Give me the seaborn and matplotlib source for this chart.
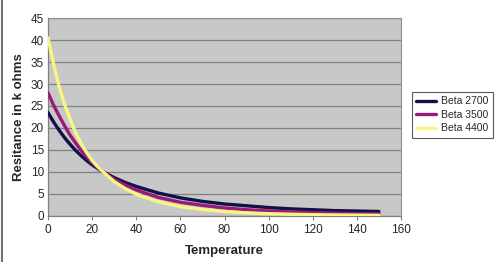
import matplotlib
matplotlib.use("Agg")
import matplotlib.pyplot as plt
import seaborn as sns
import pandas as pd
from matplotlib.lines import Line2D

temps = [0, 2.5, 5, 7.5, 10, 12.5, 15, 17.5, 20, 22.5, 25, 30, 35, 40, 50, 60, 70, 80, 90, 100, 110, 120, 130, 140, 150]
beta_2700 = [23.5, 21.4, 19.5, 17.8, 16.3, 14.9, 13.7, 12.6, 11.6, 10.8, 10.0, 8.7, 7.6, 6.7, 5.2, 4.1, 3.3, 2.7, 2.3, 1.9, 1.6, 1.4, 1.2, 1.1, 1.0]
beta_3500 = [28.0, 25.2, 22.8, 20.5, 18.4, 16.6, 14.9, 13.4, 12.1, 11.0, 10.0, 8.3, 7.0, 5.9, 4.2, 3.1, 2.4, 1.8, 1.4, 1.1, 0.9, 0.75, 0.6, 0.5, 0.45]
beta_4400 = [40.5, 34.6, 29.5, 25.4, 22.0, 19.0, 16.5, 14.4, 12.6, 11.2, 10.0, 7.8, 6.2, 4.9, 3.2, 2.1, 1.45, 1.0, 0.7, 0.5, 0.38, 0.28, 0.21, 0.16, 0.13]
series_names = ["Beta 2700", "Beta 3500", "Beta 4400"]
x_ticks = [0, 20, 40, 60, 80, 100, 120, 140, 160]
y_ticks = [0, 5, 10, 15, 20, 25, 30, 35, 40, 45]

rows = []
for name, vals in zip(series_names, [beta_2700, beta_3500, beta_4400]):
    for t, v in zip(temps, vals):
        rows.append({"Temperature": t, "R": v, "Series": name})
df = pd.DataFrame(rows)

sns.set_style("white")
plt.rcParams['font.family'] = ['Liberation Sans', 'DejaVu Sans']

fig = plt.figure(figsize=(5.0, 2.62), dpi=100)
ax = fig.add_axes([0.096, 0.176, 0.706, 0.755])
ax.set_facecolor("#c8c8c8")

palette = {"Beta 2700": "#10104a", "Beta 3500": "#9a1a78", "Beta 4400": "#f6f682"}
sns.lineplot(data=df, x="Temperature", y="R", hue="Series", palette=palette,
             linewidth=2.4, ax=ax, legend=False, zorder=3)

ax.set_xlim(0, 160)
ax.set_ylim(0, 45)
ax.set_xticks(x_ticks)
ax.set_yticks(y_ticks)
ax.yaxis.grid(True, color="#808080", linewidth=0.9, zorder=1)
ax.xaxis.grid(False)
ax.set_axisbelow(True)
for s in ["top", "right"]:
    ax.spines[s].set_color("#909090")
    ax.spines[s].set_linewidth(0.8)
for s in ["left", "bottom"]:
    ax.spines[s].set_color("#808080")
    ax.spines[s].set_linewidth(0.9)
ax.tick_params(axis="x", direction="out", length=3, width=0.8, color="#808080",
               labelsize=8.5, pad=3, bottom=True)
ax.tick_params(axis="y", direction="out", length=0, labelsize=8.5, pad=3, left=True)
ax.set_xlabel("Temperature", fontsize=9.5, fontweight="bold", labelpad=6)
ax.set_ylabel("Resitance in k ohms", fontsize=9.5, fontweight="bold", labelpad=4)

handles = [Line2D([0], [0], color=palette[n], lw=2.4) for n in series_names]
leg = fig.legend(handles, series_names, loc="upper left",
                 bbox_to_anchor=(412 / 500, 1 - 92 / 262), fontsize=7.5,
                 frameon=True, fancybox=False, handlelength=1.9, handletextpad=0.5,
                 borderpad=0.4, labelspacing=0.35, borderaxespad=0)
leg.get_frame().set_edgecolor("#303030")
leg.get_frame().set_linewidth(0.8)

fig.add_artist(Line2D([0.004, 0.004], [0.0, 1.0], color="#707070", lw=1.5,
                      transform=fig.transFigure))

fig.savefig("out.png", dpi=100)
